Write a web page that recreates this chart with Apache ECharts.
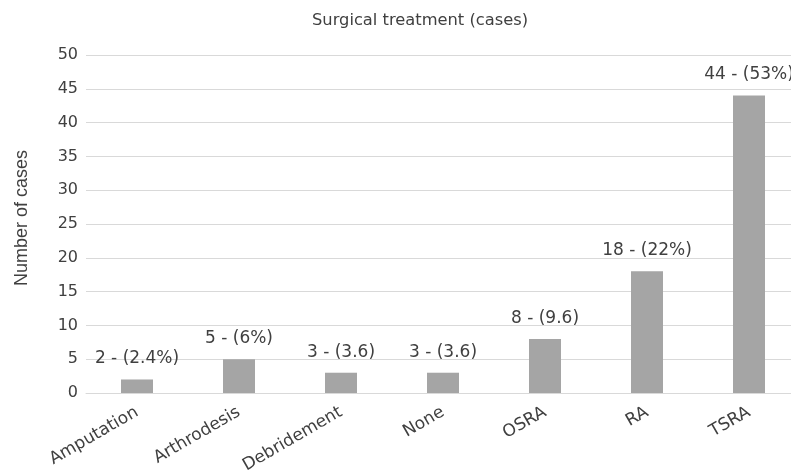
<!DOCTYPE html>
<html>
<head>
<meta charset="utf-8">
<script src="https://cdn.jsdelivr.net/npm/echarts@6/dist/echarts.min.js"></script>
<style>html,body{margin:0;padding:0;background:#fff}#c{width:791px;height:475px}</style>
</head>
<body>
<div id="c"></div>
<script>
const categories = ["Amputation", "Arthrodesis", "Debridement", "None", "OSRA", "RA", "TSRA"];
const cases = [2, 5, 3, 3, 8, 18, 44];
const barLabels = ["2 - (2.4%)", "5 - (6%)", "3 - (3.6)", "3 - (3.6)", "8 - (9.6)", "18 - (22%)", "44 - (53%)"];
const titleText = "Surgical treatment (cases)";
const yName = "Number of cases";

const font = "DejaVu Sans";
const txt = "#404040";
const chart = echarts.init(document.getElementById('c'), null, {renderer: 'canvas'});
chart.setOption({
  animation: false,
  title: {
    text: titleText,
    left: 312, top: 13, padding: 0,
    textStyle: {fontFamily: font, fontSize: 16.3, fontWeight: 'normal', color: txt}
  },
  graphic: [{
    type: 'text', x: 22, y: 218, rotation: Math.PI / 2,
    style: {text: yName, fontFamily: 'Liberation Sans', fontSize: 18, fill: txt, align: 'center', verticalAlign: 'middle'}
  }],
  grid: {left: 86, top: 55, width: 714, height: 338, outerBoundsMode: 'none', containLabel: false},
  xAxis: {
    type: 'category', data: categories,
    axisLine: {lineStyle: {color: '#d9d9d9'}},
    axisTick: {show: false},
    axisLabel: {rotate: 30, margin: 18, interval: 0, fontFamily: font, fontSize: 17, color: txt}
  },
  yAxis: {
    type: 'value', min: 0, max: 50, interval: 5,
    axisLine: {show: false}, axisTick: {show: false},
    splitLine: {lineStyle: {color: '#d9d9d9'}},
    axisLabel: {margin: 8, fontFamily: font, fontSize: 16, color: txt}
  },
  series: [{
    type: 'bar', data: cases, barWidth: 32,
    itemStyle: {color: '#a5a5a5'},
    label: {
      show: true, position: 'top', distance: 12,
      fontFamily: font, fontSize: 17, color: txt,
      formatter: p => barLabels[p.dataIndex]
    }
  }]
});
</script>
</body>
</html>
